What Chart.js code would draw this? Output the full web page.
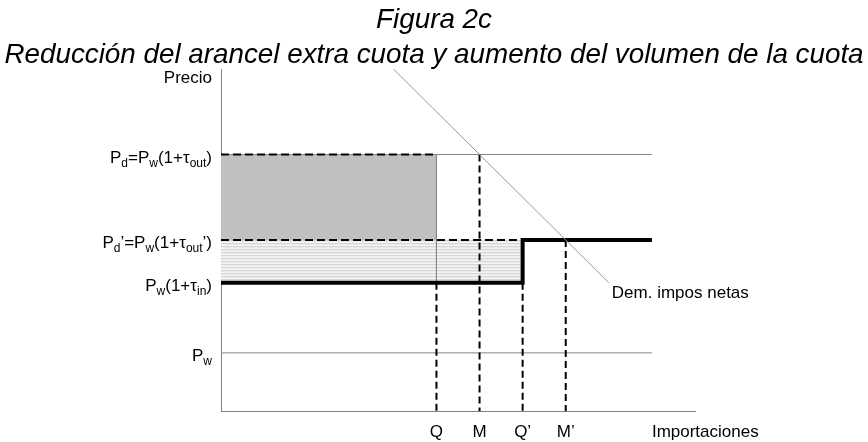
<!doctype html>
<html lang="es">
<head>
  <meta charset="utf-8">
  <title>Figura 2c</title>
  <style>
    * {
      margin: 0;
      padding: 0;
    }
    body {
      background: white;
    }
    .chartBox {
      width: 868px;
      height: 442px;
      position: relative;
    }
  </style>
</head>
<body>
<div class="chartBox">
  <canvas id="myChart"></canvas>
</div>

<script src="https://cdn.jsdelivr.net/npm/chart.js"></script>
<script>
  // cantidades (eje x)
  const qLabels = ['Q', 'M', 'Q’', 'M’'];
  const qValues = [50, 60, 70, 80];
  const xEnd = 100;
  const xMax = 110;

  // precios (eje y)
  const pw = 34;
  const pwIn = 75;
  const pd2 = 100;
  const pd = 150;
  const yMax = 200;
  const yValues = [pd, pd2, pwIn, pw];
  const yTexts = ['P_{d}=P_{w}(1+τ_{out})', 'P_{d}’=P_{w}(1+τ_{out}’)', 'P_{w}(1+τ_{in})', 'P_{w}'];

  // demanda de importaciones netas (extremos)
  const demX = [40, 90];
  const demY = [200, 75];

  const titleText = 'Figura 2c';
  const subtitleText = 'Reducción del arancel extra cuota y aumento del volumen de la cuota';

  const FONT = '"Liberation Sans", Arial, sans-serif';
  const [qQ, qM, qQ2, qM2] = qValues;

  // rayado horizontal del area de la cuota
  function stripes() {
    const c = document.createElement('canvas');
    c.width = 1; c.height = 3;
    const g = c.getContext('2d');
    g.fillStyle = '#d6d6d6'; g.fillRect(0, 0, 1, 1);
    g.fillStyle = '#ebebeb'; g.fillRect(0, 1, 1, 1);
    g.fillStyle = '#f5f5f5'; g.fillRect(0, 2, 1, 1);
    return g.createPattern(c, 'repeat');
  }

  function seg(x1, y1, x2, y2) {
    return [{x: x1, y: y1}, {x: x2, y: y2}];
  }

  const base = {pointRadius: 0, tension: 0, fill: false};
  const dashH = {borderColor: '#000', borderWidth: 2, borderDash: [8, 4]};
  const dashV = {borderColor: '#000', borderWidth: 2, borderDash: [7, 4]};
  const thin = {borderColor: '#858585', borderWidth: 1};

  const datasets = [
    // areas
    {...base, data: seg(0, pd, qQ, pd), borderWidth: 0, backgroundColor: '#c0c0c0', fill: {value: pd2}, order: 9},
    {...base, data: seg(0, pd2, qQ2, pd2), borderWidth: 0, backgroundColor: stripes(), fill: {value: pwIn}, order: 9},
    // lineas finas
    {...base, ...thin, data: seg(0, pd, xEnd, pd), order: 8},
    {...base, ...thin, data: seg(0, pw, xEnd, pw), order: 8},
    {...base, ...thin, data: seg(qQ, pd, qQ, pwIn), order: 8},
    // discontinuas
    {...base, ...dashH, data: seg(0, pd, qQ, pd), order: 6},
    {...base, ...dashH, data: seg(0, pd2, qQ2, pd2), order: 6},
    {...base, ...dashV, data: seg(qQ, pwIn, qQ, 0), order: 6},
    {...base, ...dashV, data: seg(qM, pd, qM, 0), order: 6},
    {...base, ...dashV, data: seg(qQ2, pwIn, qQ2, 0), order: 6},
    {...base, ...dashV, data: seg(qM2, pd2, qM2, 0), order: 6},
    // oferta con cuota (escalon)
    {...base, data: [{x: 0, y: pwIn}, {x: qQ2, y: pwIn}, {x: qQ2, y: pd2}, {x: xEnd, y: pd2}],
      borderColor: '#000', borderWidth: 4, borderJoinStyle: 'miter', order: 2},
    // demanda
    {...base, data: seg(demX[0], demY[0], demX[1], demY[1]), borderColor: '#9a9a9a', borderWidth: 1, order: 1}
  ];

  function richText(ctx, str, xRight, yBase) {
    const parts = [];
    str.split(/(_\{[^}]*\})/).forEach(s => {
      if (!s) return;
      if (s.startsWith('_{')) parts.push({t: s.slice(2, -1), sub: true});
      else parts.push({t: s, sub: false});
    });
    let total = 0;
    parts.forEach(p => {
      ctx.font = (p.sub ? '12px ' : '17px ') + FONT;
      p.w = ctx.measureText(p.t).width;
      total += p.w;
    });
    let x = xRight - total;
    parts.forEach(p => {
      ctx.font = (p.sub ? '12px ' : '17px ') + FONT;
      ctx.fillText(p.t, x, yBase + (p.sub ? 4 : 0));
      x += p.w;
    });
  }

  const labelsPlugin = {
    id: 'labels',
    afterDraw(chart) {
      const {ctx, chartArea, width, scales: {x, y}} = chart;
      ctx.save();
      ctx.fillStyle = '#000';
      ctx.textBaseline = 'alphabetic';

      // titulos
      ctx.textAlign = 'center';
      ctx.font = 'italic 27.8px ' + FONT;
      ctx.fillText(titleText, width / 2, 28);
      ctx.fillText(subtitleText, width / 2, 63);

      // eje y
      ctx.textAlign = 'left';
      yValues.forEach((v, i) => {
        richText(ctx, yTexts[i], chartArea.left - 9, y.getPixelForValue(v) + 8);
      });
      ctx.font = '17px ' + FONT;
      ctx.textAlign = 'right';
      ctx.fillText('Precio', chartArea.left - 9, chartArea.top + 14);

      // eje x
      ctx.textAlign = 'center';
      qValues.forEach((v, i) => {
        ctx.fillText(qLabels[i], x.getPixelForValue(v), chartArea.bottom + 26);
      });
      ctx.textAlign = 'left';
      ctx.fillText('Importaciones', x.getPixelForValue(xEnd), chartArea.bottom + 26);

      // demanda
      ctx.fillText('Dem. impos netas', x.getPixelForValue(demX[1]) + 3, y.getPixelForValue(demY[1]) + 15);
      ctx.restore();
    }
  };

  const config = {
    type: 'line',
    data: {datasets},
    options: {
      responsive: true,
      maintainAspectRatio: false,
      animation: false,
      events: [],
      layout: {
        padding: {left: 221, right: 173, top: 69, bottom: 31}
      },
      scales: {
        x: {
          type: 'linear',
          min: 0,
          max: xMax,
          grid: {display: false, drawTicks: false},
          ticks: {display: false},
          border: {display: true, color: '#808080', width: 1}
        },
        y: {
          type: 'linear',
          min: 0,
          max: yMax,
          grid: {display: false, drawTicks: false},
          ticks: {display: false},
          border: {display: true, color: '#808080', width: 1}
        }
      },
      plugins: {
        legend: {display: false},
        tooltip: {enabled: false},
        title: {display: false}
      }
    },
    plugins: [labelsPlugin]
  };

  const myChart = new Chart(document.getElementById('myChart'), config);
</script>
</body>
</html>
